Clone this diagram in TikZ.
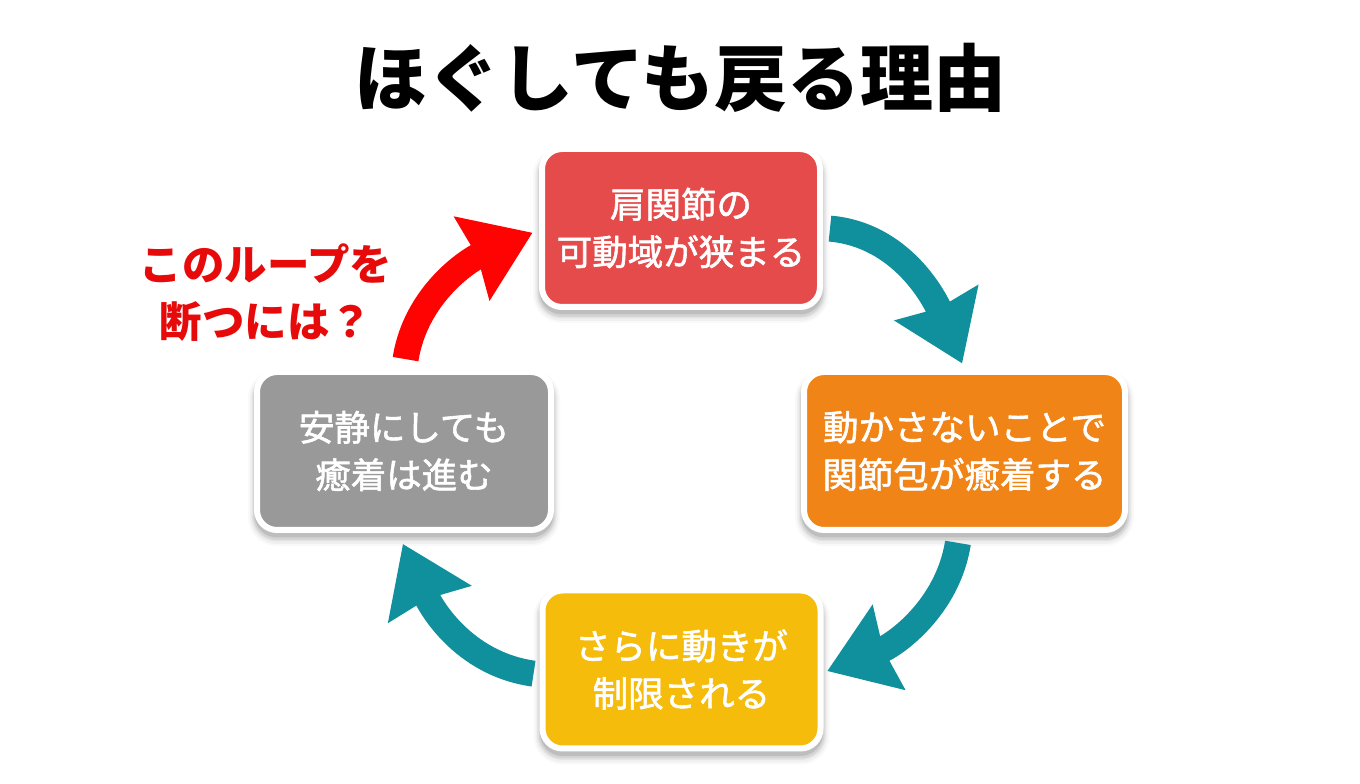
\documentclass[tikz,border=0pt]{standalone}
\usepackage{fontspec}
\usepackage{tikz}
\usetikzlibrary{arrows.meta}
\setmainfont{Noto Sans CJK JP}
\newfontfamily\boxfont{Noto Sans CJK JP}[FakeBold=1.6]
\definecolor{boxred}{HTML}{E54B4B}
\definecolor{boxorange}{HTML}{F08417}
\definecolor{boxyellow}{HTML}{F5BC0C}
\definecolor{boxgray}{HTML}{999999}
\definecolor{loopteal}{HTML}{108F9C}
\definecolor{loopred}{HTML}{FF0303}
\definecolor{asktext}{HTML}{E60A0A}
\tikzset{
	stepbox/.style={rounded corners=20pt,draw=white,line width=6pt,minimum width=278pt,minimum height=158pt,
		text=white,align=center,font=\boxfont\fontsize{35.5}{47.5}\selectfont,inner sep=0pt,
		preaction={draw=black,fill=none,opacity=.025,line width=18pt,transform canvas={yshift=-7pt}},
		preaction={draw=black,fill=none,opacity=.035,line width=14pt,transform canvas={yshift=-7pt}},
		preaction={draw=black,fill=none,opacity=.05,line width=11pt,transform canvas={yshift=-6pt}},
		preaction={draw=black,fill=none,opacity=.07,line width=8pt,transform canvas={yshift=-6pt}},
		preaction={draw=black,fill=none,opacity=.10,line width=5pt,transform canvas={yshift=-5pt}}},
	looparrow/.style={line width=26pt,draw=#1,-{Stealth[length=65pt,width=88pt,inset=5pt]}}
}
\begin{document}
\begin{tikzpicture}[x=1pt,y=1pt]
	\useasboundingbox (0,0) rectangle (1360,784);
	\node (title) at (680.5,706) {\fontsize{73}{80}\selectfont\bfseries ほぐしても戻る理由};
	\node[stepbox,fill=boxred] (shoulder) at (681,556) {肩関節の\\可動域が狭まる};
	\node[stepbox,fill=boxorange,minimum width=321pt] (capsule) at (964.5,333) {動かさないことで\\関節包が癒着する};
	\node[stepbox,fill=boxyellow] (limit) at (681.5,114.5) {さらに動きが\\制限される};
	\node[stepbox,fill=boxgray,minimum width=294pt] (rest) at (404,333) {安静にしても\\癒着は進む};
	\node[text=asktext,align=center,font=\fontsize{42.5}{57}\selectfont\bfseries] (ask) at (266,491) {このループを\\断つには？};
	% arrows around the loop
	\draw[looparrow=loopteal,shorten <=7pt,shorten >=6pt] (shoulder.east) to[out=-5,in=113] (capsule.north);
	\draw[looparrow=loopteal,shorten <=10pt,shorten >=4pt] ([xshift=-5pt]capsule.south) to[out=-99,in=21] ([yshift=-3pt]limit.east);
	\draw[looparrow=loopteal,shorten <=6pt,shorten >=12pt] ([yshift=-5pt]limit.west) to[out=172,in=-66] ([xshift=-6pt]rest.south);
	\draw[looparrow=loopred,shorten <=10pt,shorten >=7pt] (rest.north) to[out=81,in=203] ([yshift=-2pt]shoulder.west);
\end{tikzpicture}
\end{document}
